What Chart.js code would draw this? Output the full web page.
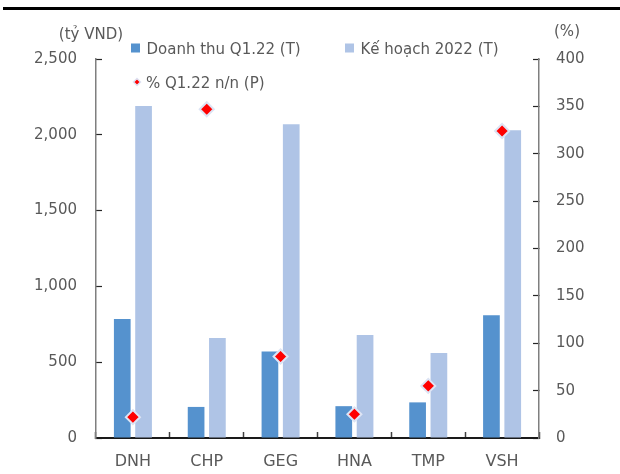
<!DOCTYPE html>
<html>
<head>
<meta charset="utf-8">
<script src="https://cdn.jsdelivr.net/npm/chart.js@4/dist/chart.umd.min.js"></script>
<style>
    html, body { margin: 0; padding: 0; background: #fff; }
    #wrap { position: relative; width: 620px; height: 474px; }
</style>
</head>
<body>
<div id="wrap"><canvas id="revenue-chart" width="620" height="474"></canvas></div>
<script>
var categories = ['DNH', 'CHP', 'GEG', 'HNA', 'TMP', 'VSH'];
var revenueQ1 = [785, 205, 570, 210, 235, 810];
var plan2022 = [2190, 660, 2070, 680, 560, 2030];
var growthYoY = [22, 347, 86, 25, 55, 324];

var seriesNames = ['Doanh thu Q1.22 (T)', 'Kế hoạch 2022 (T)', '% Q1.22 n/n (P)'];
var leftUnit = '(tỷ VND)';
var rightUnit = '(%)';
var leftTicks = [0, 500, 1000, 1500, 2000, 2500];
var rightTicks = [0, 50, 100, 150, 200, 250, 300, 350, 400];

var COL_DARK = '#5592ce';
var COL_LIGHT = '#afc4e6';
var COL_RED = '#ff0000';
var COL_EDGE = '#dde4f4';
var TEXT = '#595959';
var FONT = '"DejaVu Sans", sans-serif';

Chart.defaults.font.family = FONT;
Chart.defaults.font.size = 15;
Chart.defaults.color = TEXT;

function diamond(ctx, x, y, r, lw) {
    ctx.beginPath();
    ctx.moveTo(x, y - r);
    ctx.lineTo(x + r, y);
    ctx.lineTo(x, y + r);
    ctx.lineTo(x - r, y);
    ctx.closePath();
    ctx.fillStyle = COL_RED;
    ctx.fill();
    ctx.lineWidth = lw;
    ctx.strokeStyle = COL_EDGE;
    ctx.stroke();
}

// rule at the top, unit captions and the legend
var decorPlugin = {
    id: 'decor',
    afterDraw: function(chart) {
        var ctx = chart.ctx;
        var ds = chart.data.datasets;
        ctx.save();
        ctx.fillStyle = '#000';
        ctx.fillRect(3, 7, 617, 3);

        ctx.font = '15px ' + FONT;
        ctx.fillStyle = TEXT;
        ctx.textAlign = 'center';
        ctx.textBaseline = 'alphabetic';
        ctx.fillText(leftUnit, 91, 39);
        ctx.fillText(rightUnit, 567, 36);

        ctx.textAlign = 'left';
        // row 1: bar series
        var bars = [{ ds: ds[1], x: 131 }, { ds: ds[2], x: 345 }];
        for (var i = 0; i < bars.length; i++) {
            ctx.fillStyle = bars[i].ds.backgroundColor;
            ctx.fillRect(bars[i].x, 43.5, 9, 9);
            ctx.fillStyle = TEXT;
            ctx.fillText(bars[i].ds.label, bars[i].x + 15.5, 54);
        }
        // row 2: point series
        diamond(ctx, 137, 82, 3.5, 1.5);
        ctx.fillStyle = TEXT;
        ctx.fillText(ds[0].label, 146, 88);
        ctx.restore();
    }
};

var ctx = document.getElementById('revenue-chart').getContext('2d');
new Chart(ctx, {
    type: 'bar',
    data: {
        labels: categories,
        datasets: [
            {
                type: 'line',
                label: seriesNames[2],
                data: growthYoY,
                yAxisID: 'y1',
                showLine: false,
                pointStyle: 'rectRot',
                pointRadius: 7,
                pointHoverRadius: 7,
                pointBackgroundColor: COL_RED,
                pointBorderColor: COL_EDGE,
                pointBorderWidth: 2,
                order: 0
            },
            {
                label: seriesNames[0],
                data: revenueQ1,
                yAxisID: 'y',
                backgroundColor: COL_DARK,
                categoryPercentage: 0.577,
                barPercentage: 0.784,
                order: 1
            },
            {
                label: seriesNames[1],
                data: plan2022,
                yAxisID: 'y',
                backgroundColor: COL_LIGHT,
                categoryPercentage: 0.577,
                barPercentage: 0.784,
                order: 1
            }
        ]
    },
    options: {
        responsive: false,
        animation: false,
        layout: { padding: { top: 59, left: 0, right: 0, bottom: 0 } },
        plugins: {
            legend: { display: false },
            tooltip: { enabled: false }
        },
        scales: {
            x: {
                grid: {
                    drawOnChartArea: false,
                    offset: true,
                    tickLength: -6,
                    tickColor: '#404040',
                    tickWidth: 1.5
                },
                border: { color: '#1a1a1a', width: 2 },
                ticks: { padding: 20, color: TEXT, font: { size: 16 } },
                afterFit: function(s) { s.height = 36; }
            },
            y: {
                position: 'left',
                min: 0,
                max: 2500,
                afterBuildTicks: function(s) {
                    s.ticks = leftTicks.map(function(v) { return { value: v }; });
                },
                grid: {
                    drawOnChartArea: false,
                    tickLength: -6,
                    tickColor: '#262626',
                    tickWidth: 1.2
                },
                border: { color: '#7f7f7f', width: 1.5 },
                ticks: { padding: 25, color: TEXT },
                afterFit: function(s) { s.width = 96; }
            },
            y1: {
                position: 'right',
                min: 0,
                max: 400,
                afterBuildTicks: function(s) {
                    s.ticks = rightTicks.map(function(v) { return { value: v }; });
                },
                grid: {
                    drawOnChartArea: false,
                    tickLength: -6,
                    tickColor: '#262626',
                    tickWidth: 1.2
                },
                border: { color: '#7f7f7f', width: 1.5 },
                ticks: { padding: 23, color: TEXT },
                afterFit: function(s) { s.width = 81; }
            }
        }
    },
    plugins: [decorPlugin]
});
</script>
</body>
</html>
